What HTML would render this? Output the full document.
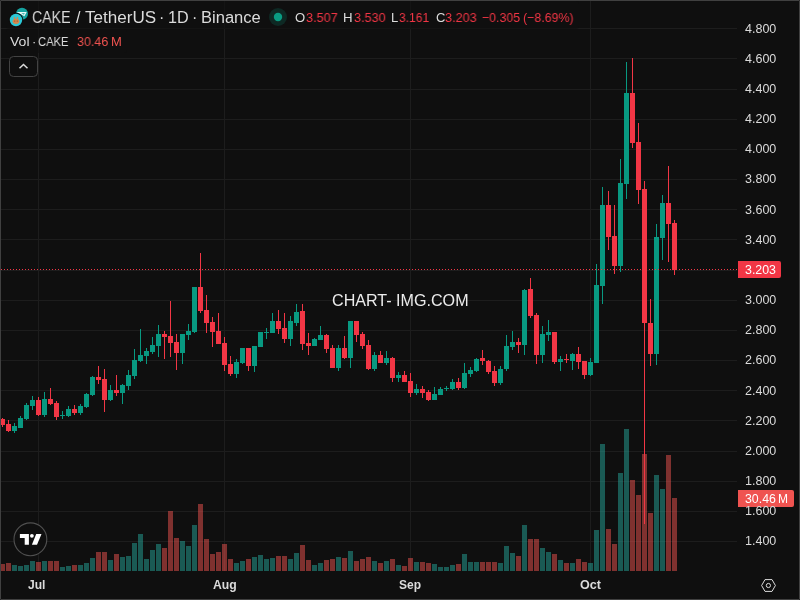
<!DOCTYPE html>
<html><head><meta charset="utf-8"><style>
html,body{margin:0;padding:0;}
body{width:800px;height:600px;overflow:hidden;background:#0f0f0f;position:relative;font-family:"Liberation Sans",sans-serif;}
svg{position:absolute;left:0;top:0;}
.t{position:absolute;white-space:pre;transform-origin:0 0;will-change:transform;}
.frame{position:absolute;left:0;top:0;width:798px;height:598px;border:1px solid #404040;border-radius:1px;pointer-events:none;}
</style></head><body>
<svg width="800" height="600" shape-rendering="crispEdges">
<rect x="1" y="28" width="736" height="1" fill="#1d1d1d"/>
<rect x="1" y="58" width="736" height="1" fill="#1d1d1d"/>
<rect x="1" y="89" width="736" height="1" fill="#1d1d1d"/>
<rect x="1" y="119" width="736" height="1" fill="#1d1d1d"/>
<rect x="1" y="149" width="736" height="1" fill="#1d1d1d"/>
<rect x="1" y="179" width="736" height="1" fill="#1d1d1d"/>
<rect x="1" y="209" width="736" height="1" fill="#1d1d1d"/>
<rect x="1" y="239" width="736" height="1" fill="#1d1d1d"/>
<rect x="1" y="270" width="736" height="1" fill="#1d1d1d"/>
<rect x="1" y="300" width="736" height="1" fill="#1d1d1d"/>
<rect x="1" y="330" width="736" height="1" fill="#1d1d1d"/>
<rect x="1" y="360" width="736" height="1" fill="#1d1d1d"/>
<rect x="1" y="390" width="736" height="1" fill="#1d1d1d"/>
<rect x="1" y="420" width="736" height="1" fill="#1d1d1d"/>
<rect x="1" y="451" width="736" height="1" fill="#1d1d1d"/>
<rect x="1" y="481" width="736" height="1" fill="#1d1d1d"/>
<rect x="1" y="511" width="736" height="1" fill="#1d1d1d"/>
<rect x="1" y="541" width="736" height="1" fill="#1d1d1d"/>
<rect x="38" y="1" width="1" height="570" fill="#1d1d1d"/>
<rect x="224" y="1" width="1" height="570" fill="#1d1d1d"/>
<rect x="410" y="1" width="1" height="570" fill="#1d1d1d"/>
<rect x="590" y="1" width="1" height="570" fill="#1d1d1d"/>
<rect x="0" y="564" width="5" height="7" fill="rgba(239,83,80,0.5)"/>
<rect x="6" y="563" width="5" height="8" fill="rgba(239,83,80,0.5)"/>
<rect x="12" y="565" width="5" height="6" fill="rgba(38,166,154,0.5)"/>
<rect x="18" y="566" width="5" height="5" fill="rgba(38,166,154,0.5)"/>
<rect x="24" y="565" width="5" height="6" fill="rgba(38,166,154,0.5)"/>
<rect x="30" y="561" width="5" height="10" fill="rgba(38,166,154,0.5)"/>
<rect x="36" y="562" width="5" height="9" fill="rgba(239,83,80,0.5)"/>
<rect x="42" y="561" width="5" height="10" fill="rgba(38,166,154,0.5)"/>
<rect x="48" y="561" width="5" height="10" fill="rgba(239,83,80,0.5)"/>
<rect x="54" y="561" width="5" height="10" fill="rgba(239,83,80,0.5)"/>
<rect x="60" y="567" width="5" height="4" fill="rgba(38,166,154,0.5)"/>
<rect x="66" y="566" width="5" height="5" fill="rgba(38,166,154,0.5)"/>
<rect x="72" y="565" width="5" height="6" fill="rgba(239,83,80,0.5)"/>
<rect x="78" y="565" width="5" height="6" fill="rgba(38,166,154,0.5)"/>
<rect x="84" y="563" width="5" height="8" fill="rgba(38,166,154,0.5)"/>
<rect x="90" y="558" width="5" height="13" fill="rgba(38,166,154,0.5)"/>
<rect x="96" y="552" width="5" height="19" fill="rgba(239,83,80,0.5)"/>
<rect x="102" y="552" width="5" height="19" fill="rgba(239,83,80,0.5)"/>
<rect x="108" y="560" width="5" height="11" fill="rgba(38,166,154,0.5)"/>
<rect x="114" y="554" width="5" height="17" fill="rgba(239,83,80,0.5)"/>
<rect x="120" y="557" width="5" height="14" fill="rgba(38,166,154,0.5)"/>
<rect x="126" y="556" width="5" height="15" fill="rgba(38,166,154,0.5)"/>
<rect x="132" y="543" width="5" height="28" fill="rgba(38,166,154,0.5)"/>
<rect x="138" y="534" width="5" height="37" fill="rgba(38,166,154,0.5)"/>
<rect x="144" y="559" width="5" height="12" fill="rgba(38,166,154,0.5)"/>
<rect x="150" y="550" width="5" height="21" fill="rgba(38,166,154,0.5)"/>
<rect x="156" y="544" width="5" height="27" fill="rgba(38,166,154,0.5)"/>
<rect x="162" y="548" width="5" height="23" fill="rgba(239,83,80,0.5)"/>
<rect x="168" y="511" width="5" height="60" fill="rgba(239,83,80,0.5)"/>
<rect x="174" y="538" width="5" height="33" fill="rgba(239,83,80,0.5)"/>
<rect x="180" y="541" width="5" height="30" fill="rgba(38,166,154,0.5)"/>
<rect x="186" y="546" width="5" height="25" fill="rgba(38,166,154,0.5)"/>
<rect x="192" y="525" width="5" height="46" fill="rgba(38,166,154,0.5)"/>
<rect x="198" y="504" width="5" height="67" fill="rgba(239,83,80,0.5)"/>
<rect x="204" y="539" width="5" height="32" fill="rgba(239,83,80,0.5)"/>
<rect x="210" y="554" width="5" height="17" fill="rgba(239,83,80,0.5)"/>
<rect x="216" y="552" width="5" height="19" fill="rgba(239,83,80,0.5)"/>
<rect x="222" y="544" width="5" height="27" fill="rgba(239,83,80,0.5)"/>
<rect x="228" y="559" width="5" height="12" fill="rgba(239,83,80,0.5)"/>
<rect x="234" y="563" width="5" height="8" fill="rgba(38,166,154,0.5)"/>
<rect x="240" y="561" width="5" height="10" fill="rgba(38,166,154,0.5)"/>
<rect x="246" y="559" width="5" height="12" fill="rgba(239,83,80,0.5)"/>
<rect x="252" y="557" width="5" height="14" fill="rgba(38,166,154,0.5)"/>
<rect x="258" y="555" width="5" height="16" fill="rgba(38,166,154,0.5)"/>
<rect x="264" y="559" width="5" height="12" fill="rgba(38,166,154,0.5)"/>
<rect x="270" y="558" width="5" height="13" fill="rgba(38,166,154,0.5)"/>
<rect x="276" y="556" width="5" height="15" fill="rgba(239,83,80,0.5)"/>
<rect x="282" y="556" width="5" height="15" fill="rgba(239,83,80,0.5)"/>
<rect x="288" y="559" width="5" height="12" fill="rgba(38,166,154,0.5)"/>
<rect x="294" y="553" width="5" height="18" fill="rgba(38,166,154,0.5)"/>
<rect x="300" y="545" width="5" height="26" fill="rgba(239,83,80,0.5)"/>
<rect x="306" y="560" width="5" height="11" fill="rgba(239,83,80,0.5)"/>
<rect x="312" y="565" width="5" height="6" fill="rgba(38,166,154,0.5)"/>
<rect x="318" y="563" width="5" height="8" fill="rgba(38,166,154,0.5)"/>
<rect x="324" y="560" width="5" height="11" fill="rgba(239,83,80,0.5)"/>
<rect x="330" y="559" width="5" height="12" fill="rgba(239,83,80,0.5)"/>
<rect x="336" y="557" width="5" height="14" fill="rgba(38,166,154,0.5)"/>
<rect x="342" y="558" width="5" height="13" fill="rgba(239,83,80,0.5)"/>
<rect x="348" y="551" width="5" height="20" fill="rgba(38,166,154,0.5)"/>
<rect x="354" y="561" width="5" height="10" fill="rgba(239,83,80,0.5)"/>
<rect x="360" y="559" width="5" height="12" fill="rgba(239,83,80,0.5)"/>
<rect x="366" y="557" width="5" height="14" fill="rgba(239,83,80,0.5)"/>
<rect x="372" y="561" width="5" height="10" fill="rgba(38,166,154,0.5)"/>
<rect x="378" y="563" width="5" height="8" fill="rgba(239,83,80,0.5)"/>
<rect x="384" y="561" width="5" height="10" fill="rgba(38,166,154,0.5)"/>
<rect x="390" y="559" width="5" height="12" fill="rgba(239,83,80,0.5)"/>
<rect x="396" y="565" width="5" height="6" fill="rgba(38,166,154,0.5)"/>
<rect x="402" y="566" width="5" height="5" fill="rgba(239,83,80,0.5)"/>
<rect x="408" y="558" width="5" height="13" fill="rgba(239,83,80,0.5)"/>
<rect x="414" y="562" width="5" height="9" fill="rgba(38,166,154,0.5)"/>
<rect x="420" y="562" width="5" height="9" fill="rgba(239,83,80,0.5)"/>
<rect x="426" y="563" width="5" height="8" fill="rgba(239,83,80,0.5)"/>
<rect x="432" y="564" width="5" height="7" fill="rgba(38,166,154,0.5)"/>
<rect x="438" y="567" width="5" height="4" fill="rgba(38,166,154,0.5)"/>
<rect x="444" y="567" width="5" height="4" fill="rgba(38,166,154,0.5)"/>
<rect x="450" y="565" width="5" height="6" fill="rgba(38,166,154,0.5)"/>
<rect x="456" y="564" width="5" height="7" fill="rgba(239,83,80,0.5)"/>
<rect x="462" y="554" width="5" height="17" fill="rgba(38,166,154,0.5)"/>
<rect x="468" y="562" width="5" height="9" fill="rgba(38,166,154,0.5)"/>
<rect x="474" y="562" width="5" height="9" fill="rgba(38,166,154,0.5)"/>
<rect x="480" y="562" width="5" height="9" fill="rgba(239,83,80,0.5)"/>
<rect x="486" y="562" width="5" height="9" fill="rgba(239,83,80,0.5)"/>
<rect x="492" y="562" width="5" height="9" fill="rgba(239,83,80,0.5)"/>
<rect x="498" y="563" width="5" height="8" fill="rgba(38,166,154,0.5)"/>
<rect x="504" y="546" width="5" height="25" fill="rgba(38,166,154,0.5)"/>
<rect x="510" y="553" width="5" height="18" fill="rgba(38,166,154,0.5)"/>
<rect x="516" y="556" width="5" height="15" fill="rgba(239,83,80,0.5)"/>
<rect x="522" y="525" width="5" height="46" fill="rgba(38,166,154,0.5)"/>
<rect x="528" y="539" width="5" height="32" fill="rgba(239,83,80,0.5)"/>
<rect x="534" y="539" width="5" height="32" fill="rgba(239,83,80,0.5)"/>
<rect x="540" y="548" width="5" height="23" fill="rgba(38,166,154,0.5)"/>
<rect x="546" y="552" width="5" height="19" fill="rgba(38,166,154,0.5)"/>
<rect x="552" y="554" width="5" height="17" fill="rgba(239,83,80,0.5)"/>
<rect x="558" y="560" width="5" height="11" fill="rgba(38,166,154,0.5)"/>
<rect x="564" y="563" width="5" height="8" fill="rgba(239,83,80,0.5)"/>
<rect x="570" y="563" width="5" height="8" fill="rgba(38,166,154,0.5)"/>
<rect x="576" y="559" width="5" height="12" fill="rgba(239,83,80,0.5)"/>
<rect x="582" y="562" width="5" height="9" fill="rgba(239,83,80,0.5)"/>
<rect x="588" y="563" width="5" height="8" fill="rgba(38,166,154,0.5)"/>
<rect x="594" y="530" width="5" height="41" fill="rgba(38,166,154,0.5)"/>
<rect x="600" y="444" width="5" height="127" fill="rgba(38,166,154,0.5)"/>
<rect x="606" y="529" width="5" height="42" fill="rgba(239,83,80,0.5)"/>
<rect x="612" y="544" width="5" height="27" fill="rgba(239,83,80,0.5)"/>
<rect x="618" y="473" width="5" height="98" fill="rgba(38,166,154,0.5)"/>
<rect x="624" y="429" width="5" height="142" fill="rgba(38,166,154,0.5)"/>
<rect x="630" y="480" width="5" height="91" fill="rgba(239,83,80,0.5)"/>
<rect x="636" y="495" width="5" height="76" fill="rgba(239,83,80,0.5)"/>
<rect x="642" y="454" width="5" height="117" fill="rgba(239,83,80,0.5)"/>
<rect x="648" y="513" width="5" height="58" fill="rgba(239,83,80,0.5)"/>
<rect x="654" y="475" width="5" height="96" fill="rgba(38,166,154,0.5)"/>
<rect x="660" y="489" width="5" height="82" fill="rgba(38,166,154,0.5)"/>
<rect x="666" y="455" width="5" height="116" fill="rgba(239,83,80,0.5)"/>
<rect x="672" y="498" width="5" height="73" fill="rgba(239,83,80,0.5)"/>
<rect x="2" y="418" width="1" height="9" fill="#f23645"/>
<rect x="0" y="419" width="5" height="6" fill="#f23645"/>
<rect x="8" y="420" width="1" height="12" fill="#f23645"/>
<rect x="6" y="424" width="5" height="7" fill="#f23645"/>
<rect x="14" y="423" width="1" height="10" fill="#089981"/>
<rect x="12" y="426" width="5" height="5" fill="#089981"/>
<rect x="20" y="416" width="1" height="12" fill="#089981"/>
<rect x="18" y="418" width="5" height="10" fill="#089981"/>
<rect x="26" y="403" width="1" height="17" fill="#089981"/>
<rect x="24" y="405" width="5" height="14" fill="#089981"/>
<rect x="32" y="396" width="1" height="14" fill="#089981"/>
<rect x="30" y="400" width="5" height="6" fill="#089981"/>
<rect x="38" y="397" width="1" height="19" fill="#f23645"/>
<rect x="36" y="400" width="5" height="15" fill="#f23645"/>
<rect x="44" y="392" width="1" height="25" fill="#089981"/>
<rect x="42" y="399" width="5" height="16" fill="#089981"/>
<rect x="50" y="388" width="1" height="17" fill="#f23645"/>
<rect x="48" y="399" width="5" height="5" fill="#f23645"/>
<rect x="56" y="401" width="1" height="19" fill="#f23645"/>
<rect x="54" y="403" width="5" height="14" fill="#f23645"/>
<rect x="62" y="411" width="1" height="8" fill="#089981"/>
<rect x="60" y="415" width="5" height="1" fill="#089981"/>
<rect x="68" y="406" width="1" height="11" fill="#089981"/>
<rect x="66" y="409" width="5" height="7" fill="#089981"/>
<rect x="74" y="405" width="1" height="10" fill="#f23645"/>
<rect x="72" y="409" width="5" height="4" fill="#f23645"/>
<rect x="80" y="404" width="1" height="11" fill="#089981"/>
<rect x="78" y="406" width="5" height="7" fill="#089981"/>
<rect x="86" y="393" width="1" height="15" fill="#089981"/>
<rect x="84" y="394" width="5" height="13" fill="#089981"/>
<rect x="92" y="376" width="1" height="20" fill="#089981"/>
<rect x="90" y="377" width="5" height="18" fill="#089981"/>
<rect x="98" y="366" width="1" height="18" fill="#f23645"/>
<rect x="96" y="377" width="5" height="3" fill="#f23645"/>
<rect x="104" y="369" width="1" height="43" fill="#f23645"/>
<rect x="102" y="379" width="5" height="21" fill="#f23645"/>
<rect x="110" y="385" width="1" height="16" fill="#089981"/>
<rect x="108" y="390" width="5" height="10" fill="#089981"/>
<rect x="116" y="375" width="1" height="21" fill="#f23645"/>
<rect x="114" y="390" width="5" height="3" fill="#f23645"/>
<rect x="122" y="384" width="1" height="20" fill="#089981"/>
<rect x="120" y="385" width="5" height="8" fill="#089981"/>
<rect x="128" y="370" width="1" height="20" fill="#089981"/>
<rect x="126" y="375" width="5" height="11" fill="#089981"/>
<rect x="134" y="349" width="1" height="30" fill="#089981"/>
<rect x="132" y="360" width="5" height="16" fill="#089981"/>
<rect x="140" y="329" width="1" height="33" fill="#089981"/>
<rect x="138" y="355" width="5" height="6" fill="#089981"/>
<rect x="146" y="348" width="1" height="16" fill="#089981"/>
<rect x="144" y="351" width="5" height="5" fill="#089981"/>
<rect x="152" y="337" width="1" height="17" fill="#089981"/>
<rect x="150" y="345" width="5" height="7" fill="#089981"/>
<rect x="158" y="325" width="1" height="32" fill="#089981"/>
<rect x="156" y="334" width="5" height="12" fill="#089981"/>
<rect x="164" y="331" width="1" height="28" fill="#f23645"/>
<rect x="162" y="334" width="5" height="3" fill="#f23645"/>
<rect x="170" y="301" width="1" height="56" fill="#f23645"/>
<rect x="168" y="336" width="5" height="7" fill="#f23645"/>
<rect x="176" y="334" width="1" height="36" fill="#f23645"/>
<rect x="174" y="342" width="5" height="11" fill="#f23645"/>
<rect x="182" y="334" width="1" height="30" fill="#089981"/>
<rect x="180" y="334" width="5" height="19" fill="#089981"/>
<rect x="188" y="324" width="1" height="16" fill="#089981"/>
<rect x="186" y="331" width="5" height="4" fill="#089981"/>
<rect x="194" y="287" width="1" height="46" fill="#089981"/>
<rect x="192" y="287" width="5" height="45" fill="#089981"/>
<rect x="200" y="253" width="1" height="60" fill="#f23645"/>
<rect x="198" y="287" width="5" height="24" fill="#f23645"/>
<rect x="206" y="295" width="1" height="38" fill="#f23645"/>
<rect x="204" y="310" width="5" height="13" fill="#f23645"/>
<rect x="212" y="317" width="1" height="30" fill="#f23645"/>
<rect x="210" y="322" width="5" height="10" fill="#f23645"/>
<rect x="218" y="313" width="1" height="31" fill="#f23645"/>
<rect x="216" y="331" width="5" height="13" fill="#f23645"/>
<rect x="224" y="337" width="1" height="34" fill="#f23645"/>
<rect x="222" y="343" width="5" height="22" fill="#f23645"/>
<rect x="230" y="356" width="1" height="20" fill="#f23645"/>
<rect x="228" y="364" width="5" height="10" fill="#f23645"/>
<rect x="236" y="359" width="1" height="19" fill="#089981"/>
<rect x="234" y="362" width="5" height="12" fill="#089981"/>
<rect x="242" y="348" width="1" height="16" fill="#089981"/>
<rect x="240" y="348" width="5" height="15" fill="#089981"/>
<rect x="248" y="348" width="1" height="23" fill="#f23645"/>
<rect x="246" y="348" width="5" height="18" fill="#f23645"/>
<rect x="254" y="346" width="1" height="26" fill="#089981"/>
<rect x="252" y="346" width="5" height="20" fill="#089981"/>
<rect x="260" y="332" width="1" height="15" fill="#089981"/>
<rect x="258" y="332" width="5" height="15" fill="#089981"/>
<rect x="266" y="328" width="1" height="11" fill="#089981"/>
<rect x="264" y="332" width="5" height="1" fill="#089981"/>
<rect x="272" y="313" width="1" height="20" fill="#089981"/>
<rect x="270" y="321" width="5" height="12" fill="#089981"/>
<rect x="278" y="310" width="1" height="24" fill="#f23645"/>
<rect x="276" y="321" width="5" height="8" fill="#f23645"/>
<rect x="284" y="313" width="1" height="30" fill="#f23645"/>
<rect x="282" y="328" width="5" height="11" fill="#f23645"/>
<rect x="290" y="316" width="1" height="30" fill="#089981"/>
<rect x="288" y="321" width="5" height="18" fill="#089981"/>
<rect x="296" y="304" width="1" height="22" fill="#089981"/>
<rect x="294" y="312" width="5" height="11" fill="#089981"/>
<rect x="302" y="304" width="1" height="46" fill="#f23645"/>
<rect x="300" y="311" width="5" height="33" fill="#f23645"/>
<rect x="308" y="333" width="1" height="22" fill="#f23645"/>
<rect x="306" y="343" width="5" height="3" fill="#f23645"/>
<rect x="314" y="338" width="1" height="8" fill="#089981"/>
<rect x="312" y="339" width="5" height="7" fill="#089981"/>
<rect x="320" y="326" width="1" height="14" fill="#089981"/>
<rect x="318" y="335" width="5" height="5" fill="#089981"/>
<rect x="326" y="334" width="1" height="19" fill="#f23645"/>
<rect x="324" y="335" width="5" height="14" fill="#f23645"/>
<rect x="332" y="345" width="1" height="23" fill="#f23645"/>
<rect x="330" y="348" width="5" height="20" fill="#f23645"/>
<rect x="338" y="345" width="1" height="26" fill="#089981"/>
<rect x="336" y="348" width="5" height="20" fill="#089981"/>
<rect x="344" y="336" width="1" height="23" fill="#f23645"/>
<rect x="342" y="348" width="5" height="10" fill="#f23645"/>
<rect x="350" y="321" width="1" height="47" fill="#089981"/>
<rect x="348" y="321" width="5" height="37" fill="#089981"/>
<rect x="356" y="321" width="1" height="21" fill="#f23645"/>
<rect x="354" y="321" width="5" height="14" fill="#f23645"/>
<rect x="362" y="332" width="1" height="17" fill="#f23645"/>
<rect x="360" y="334" width="5" height="12" fill="#f23645"/>
<rect x="368" y="340" width="1" height="30" fill="#f23645"/>
<rect x="366" y="345" width="5" height="24" fill="#f23645"/>
<rect x="374" y="352" width="1" height="19" fill="#089981"/>
<rect x="372" y="355" width="5" height="14" fill="#089981"/>
<rect x="380" y="351" width="1" height="12" fill="#f23645"/>
<rect x="378" y="355" width="5" height="8" fill="#f23645"/>
<rect x="386" y="351" width="1" height="14" fill="#089981"/>
<rect x="384" y="358" width="5" height="5" fill="#089981"/>
<rect x="392" y="357" width="1" height="25" fill="#f23645"/>
<rect x="390" y="358" width="5" height="20" fill="#f23645"/>
<rect x="398" y="372" width="1" height="10" fill="#089981"/>
<rect x="396" y="375" width="5" height="3" fill="#089981"/>
<rect x="404" y="371" width="1" height="11" fill="#f23645"/>
<rect x="402" y="375" width="5" height="7" fill="#f23645"/>
<rect x="410" y="373" width="1" height="24" fill="#f23645"/>
<rect x="408" y="381" width="5" height="12" fill="#f23645"/>
<rect x="416" y="384" width="1" height="11" fill="#089981"/>
<rect x="414" y="389" width="5" height="4" fill="#089981"/>
<rect x="422" y="386" width="1" height="12" fill="#f23645"/>
<rect x="420" y="389" width="5" height="4" fill="#f23645"/>
<rect x="428" y="390" width="1" height="11" fill="#f23645"/>
<rect x="426" y="392" width="5" height="8" fill="#f23645"/>
<rect x="434" y="387" width="1" height="13" fill="#089981"/>
<rect x="432" y="394" width="5" height="6" fill="#089981"/>
<rect x="440" y="387" width="1" height="8" fill="#089981"/>
<rect x="438" y="389" width="5" height="6" fill="#089981"/>
<rect x="446" y="386" width="1" height="5" fill="#089981"/>
<rect x="444" y="388" width="5" height="1" fill="#089981"/>
<rect x="452" y="379" width="1" height="11" fill="#089981"/>
<rect x="450" y="382" width="5" height="7" fill="#089981"/>
<rect x="458" y="378" width="1" height="12" fill="#f23645"/>
<rect x="456" y="382" width="5" height="6" fill="#f23645"/>
<rect x="464" y="363" width="1" height="26" fill="#089981"/>
<rect x="462" y="373" width="5" height="15" fill="#089981"/>
<rect x="470" y="367" width="1" height="10" fill="#089981"/>
<rect x="468" y="370" width="5" height="4" fill="#089981"/>
<rect x="476" y="358" width="1" height="14" fill="#089981"/>
<rect x="474" y="359" width="5" height="12" fill="#089981"/>
<rect x="482" y="350" width="1" height="15" fill="#f23645"/>
<rect x="480" y="358" width="5" height="3" fill="#f23645"/>
<rect x="488" y="360" width="1" height="14" fill="#f23645"/>
<rect x="486" y="361" width="5" height="11" fill="#f23645"/>
<rect x="494" y="366" width="1" height="20" fill="#f23645"/>
<rect x="492" y="371" width="5" height="12" fill="#f23645"/>
<rect x="500" y="366" width="1" height="19" fill="#089981"/>
<rect x="498" y="369" width="5" height="14" fill="#089981"/>
<rect x="506" y="335" width="1" height="36" fill="#089981"/>
<rect x="504" y="346" width="5" height="23" fill="#089981"/>
<rect x="512" y="331" width="1" height="19" fill="#089981"/>
<rect x="510" y="342" width="5" height="5" fill="#089981"/>
<rect x="518" y="338" width="1" height="15" fill="#f23645"/>
<rect x="516" y="342" width="5" height="3" fill="#f23645"/>
<rect x="524" y="289" width="1" height="66" fill="#089981"/>
<rect x="522" y="290" width="5" height="55" fill="#089981"/>
<rect x="530" y="278" width="1" height="40" fill="#f23645"/>
<rect x="528" y="289" width="5" height="27" fill="#f23645"/>
<rect x="536" y="313" width="1" height="51" fill="#f23645"/>
<rect x="534" y="315" width="5" height="40" fill="#f23645"/>
<rect x="542" y="326" width="1" height="37" fill="#089981"/>
<rect x="540" y="334" width="5" height="21" fill="#089981"/>
<rect x="548" y="320" width="1" height="21" fill="#089981"/>
<rect x="546" y="332" width="5" height="3" fill="#089981"/>
<rect x="554" y="332" width="1" height="32" fill="#f23645"/>
<rect x="552" y="332" width="5" height="30" fill="#f23645"/>
<rect x="560" y="356" width="1" height="15" fill="#089981"/>
<rect x="558" y="359" width="5" height="3" fill="#089981"/>
<rect x="566" y="354" width="1" height="9" fill="#f23645"/>
<rect x="564" y="359" width="5" height="1" fill="#f23645"/>
<rect x="572" y="353" width="1" height="17" fill="#089981"/>
<rect x="570" y="354" width="5" height="7" fill="#089981"/>
<rect x="578" y="347" width="1" height="22" fill="#f23645"/>
<rect x="576" y="354" width="5" height="8" fill="#f23645"/>
<rect x="584" y="361" width="1" height="18" fill="#f23645"/>
<rect x="582" y="361" width="5" height="14" fill="#f23645"/>
<rect x="590" y="358" width="1" height="18" fill="#089981"/>
<rect x="588" y="362" width="5" height="13" fill="#089981"/>
<rect x="596" y="264" width="1" height="99" fill="#089981"/>
<rect x="594" y="285" width="5" height="78" fill="#089981"/>
<rect x="602" y="187" width="1" height="117" fill="#089981"/>
<rect x="600" y="205" width="5" height="81" fill="#089981"/>
<rect x="608" y="191" width="1" height="59" fill="#f23645"/>
<rect x="606" y="205" width="5" height="32" fill="#f23645"/>
<rect x="614" y="205" width="1" height="69" fill="#f23645"/>
<rect x="612" y="236" width="5" height="30" fill="#f23645"/>
<rect x="620" y="159" width="1" height="113" fill="#089981"/>
<rect x="618" y="183" width="5" height="83" fill="#089981"/>
<rect x="626" y="62" width="1" height="137" fill="#089981"/>
<rect x="624" y="93" width="5" height="91" fill="#089981"/>
<rect x="632" y="58" width="1" height="90" fill="#f23645"/>
<rect x="630" y="93" width="5" height="50" fill="#f23645"/>
<rect x="638" y="123" width="1" height="81" fill="#f23645"/>
<rect x="636" y="142" width="5" height="48" fill="#f23645"/>
<rect x="644" y="181" width="1" height="343" fill="#f23645"/>
<rect x="642" y="189" width="5" height="134" fill="#f23645"/>
<rect x="650" y="299" width="1" height="67" fill="#f23645"/>
<rect x="648" y="323" width="5" height="31" fill="#f23645"/>
<rect x="656" y="224" width="1" height="141" fill="#089981"/>
<rect x="654" y="237" width="5" height="117" fill="#089981"/>
<rect x="662" y="195" width="1" height="65" fill="#089981"/>
<rect x="660" y="203" width="5" height="35" fill="#089981"/>
<rect x="668" y="166" width="1" height="96" fill="#f23645"/>
<rect x="666" y="203" width="5" height="21" fill="#f23645"/>
<rect x="674" y="220" width="1" height="55" fill="#f23645"/>
<rect x="672" y="223" width="5" height="47" fill="#f23645"/>
<path d="M1 269h1v1h-1zM4 269h1v1h-1zM7 269h1v1h-1zM10 269h1v1h-1zM13 269h1v1h-1zM16 269h1v1h-1zM19 269h1v1h-1zM22 269h1v1h-1zM25 269h1v1h-1zM28 269h1v1h-1zM31 269h1v1h-1zM34 269h1v1h-1zM37 269h1v1h-1zM40 269h1v1h-1zM43 269h1v1h-1zM46 269h1v1h-1zM49 269h1v1h-1zM52 269h1v1h-1zM55 269h1v1h-1zM58 269h1v1h-1zM61 269h1v1h-1zM64 269h1v1h-1zM67 269h1v1h-1zM70 269h1v1h-1zM73 269h1v1h-1zM76 269h1v1h-1zM79 269h1v1h-1zM82 269h1v1h-1zM85 269h1v1h-1zM88 269h1v1h-1zM91 269h1v1h-1zM94 269h1v1h-1zM97 269h1v1h-1zM100 269h1v1h-1zM103 269h1v1h-1zM106 269h1v1h-1zM109 269h1v1h-1zM112 269h1v1h-1zM115 269h1v1h-1zM118 269h1v1h-1zM121 269h1v1h-1zM124 269h1v1h-1zM127 269h1v1h-1zM130 269h1v1h-1zM133 269h1v1h-1zM136 269h1v1h-1zM139 269h1v1h-1zM142 269h1v1h-1zM145 269h1v1h-1zM148 269h1v1h-1zM151 269h1v1h-1zM154 269h1v1h-1zM157 269h1v1h-1zM160 269h1v1h-1zM163 269h1v1h-1zM166 269h1v1h-1zM169 269h1v1h-1zM172 269h1v1h-1zM175 269h1v1h-1zM178 269h1v1h-1zM181 269h1v1h-1zM184 269h1v1h-1zM187 269h1v1h-1zM190 269h1v1h-1zM193 269h1v1h-1zM196 269h1v1h-1zM199 269h1v1h-1zM202 269h1v1h-1zM205 269h1v1h-1zM208 269h1v1h-1zM211 269h1v1h-1zM214 269h1v1h-1zM217 269h1v1h-1zM220 269h1v1h-1zM223 269h1v1h-1zM226 269h1v1h-1zM229 269h1v1h-1zM232 269h1v1h-1zM235 269h1v1h-1zM238 269h1v1h-1zM241 269h1v1h-1zM244 269h1v1h-1zM247 269h1v1h-1zM250 269h1v1h-1zM253 269h1v1h-1zM256 269h1v1h-1zM259 269h1v1h-1zM262 269h1v1h-1zM265 269h1v1h-1zM268 269h1v1h-1zM271 269h1v1h-1zM274 269h1v1h-1zM277 269h1v1h-1zM280 269h1v1h-1zM283 269h1v1h-1zM286 269h1v1h-1zM289 269h1v1h-1zM292 269h1v1h-1zM295 269h1v1h-1zM298 269h1v1h-1zM301 269h1v1h-1zM304 269h1v1h-1zM307 269h1v1h-1zM310 269h1v1h-1zM313 269h1v1h-1zM316 269h1v1h-1zM319 269h1v1h-1zM322 269h1v1h-1zM325 269h1v1h-1zM328 269h1v1h-1zM331 269h1v1h-1zM334 269h1v1h-1zM337 269h1v1h-1zM340 269h1v1h-1zM343 269h1v1h-1zM346 269h1v1h-1zM349 269h1v1h-1zM352 269h1v1h-1zM355 269h1v1h-1zM358 269h1v1h-1zM361 269h1v1h-1zM364 269h1v1h-1zM367 269h1v1h-1zM370 269h1v1h-1zM373 269h1v1h-1zM376 269h1v1h-1zM379 269h1v1h-1zM382 269h1v1h-1zM385 269h1v1h-1zM388 269h1v1h-1zM391 269h1v1h-1zM394 269h1v1h-1zM397 269h1v1h-1zM400 269h1v1h-1zM403 269h1v1h-1zM406 269h1v1h-1zM409 269h1v1h-1zM412 269h1v1h-1zM415 269h1v1h-1zM418 269h1v1h-1zM421 269h1v1h-1zM424 269h1v1h-1zM427 269h1v1h-1zM430 269h1v1h-1zM433 269h1v1h-1zM436 269h1v1h-1zM439 269h1v1h-1zM442 269h1v1h-1zM445 269h1v1h-1zM448 269h1v1h-1zM451 269h1v1h-1zM454 269h1v1h-1zM457 269h1v1h-1zM460 269h1v1h-1zM463 269h1v1h-1zM466 269h1v1h-1zM469 269h1v1h-1zM472 269h1v1h-1zM475 269h1v1h-1zM478 269h1v1h-1zM481 269h1v1h-1zM484 269h1v1h-1zM487 269h1v1h-1zM490 269h1v1h-1zM493 269h1v1h-1zM496 269h1v1h-1zM499 269h1v1h-1zM502 269h1v1h-1zM505 269h1v1h-1zM508 269h1v1h-1zM511 269h1v1h-1zM514 269h1v1h-1zM517 269h1v1h-1zM520 269h1v1h-1zM523 269h1v1h-1zM526 269h1v1h-1zM529 269h1v1h-1zM532 269h1v1h-1zM535 269h1v1h-1zM538 269h1v1h-1zM541 269h1v1h-1zM544 269h1v1h-1zM547 269h1v1h-1zM550 269h1v1h-1zM553 269h1v1h-1zM556 269h1v1h-1zM559 269h1v1h-1zM562 269h1v1h-1zM565 269h1v1h-1zM568 269h1v1h-1zM571 269h1v1h-1zM574 269h1v1h-1zM577 269h1v1h-1zM580 269h1v1h-1zM583 269h1v1h-1zM586 269h1v1h-1zM589 269h1v1h-1zM592 269h1v1h-1zM595 269h1v1h-1zM598 269h1v1h-1zM601 269h1v1h-1zM604 269h1v1h-1zM607 269h1v1h-1zM610 269h1v1h-1zM613 269h1v1h-1zM616 269h1v1h-1zM619 269h1v1h-1zM622 269h1v1h-1zM625 269h1v1h-1zM628 269h1v1h-1zM631 269h1v1h-1zM634 269h1v1h-1zM637 269h1v1h-1zM640 269h1v1h-1zM643 269h1v1h-1zM646 269h1v1h-1zM649 269h1v1h-1zM652 269h1v1h-1zM655 269h1v1h-1zM658 269h1v1h-1zM661 269h1v1h-1zM664 269h1v1h-1zM667 269h1v1h-1zM670 269h1v1h-1zM673 269h1v1h-1zM676 269h1v1h-1zM679 269h1v1h-1zM682 269h1v1h-1zM685 269h1v1h-1zM688 269h1v1h-1zM691 269h1v1h-1zM694 269h1v1h-1zM697 269h1v1h-1zM700 269h1v1h-1zM703 269h1v1h-1zM706 269h1v1h-1zM709 269h1v1h-1zM712 269h1v1h-1zM715 269h1v1h-1zM718 269h1v1h-1zM721 269h1v1h-1zM724 269h1v1h-1zM727 269h1v1h-1zM730 269h1v1h-1zM733 269h1v1h-1zM736 269h1v1h-1z" fill="#f23645"/>
<path d="M738 261H779a2 2 0 0 1 2 2V276a2 2 0 0 1 -2 2H738z" fill="#f23645" shape-rendering="auto"/>
<path d="M738 490H792a2 2 0 0 1 2 2V505a2 2 0 0 1 -2 2H738z" fill="#ef5350" shape-rendering="auto"/>
</svg>

<svg width="800" height="600" style="position:absolute;left:0;top:0">
 <rect x="6" y="1" width="573" height="28" rx="3" fill="#0f0f0f" fill-opacity="0.6"/>
 <rect x="6" y="29" width="121" height="24" rx="3" fill="#0f0f0f" fill-opacity="0.6"/>
 <!-- coin icons -->
 <circle cx="22" cy="13.8" r="6" fill="#16a3a0"/>
 <path d="M18.8 12.6 L25.8 12.6 L24.2 15.6 Z" fill="none" stroke="#e8f7f5" stroke-width="1.1"/>
 <circle cx="16" cy="20" r="7.3" fill="#0f0f0f"/>
 <circle cx="16" cy="20" r="6.2" fill="#2bc9d7"/>
 <ellipse cx="16" cy="21.3" rx="3.4" ry="2.6" fill="#d4874d"/>
 <rect x="13.9" y="17" width="1.3" height="3" rx="0.6" fill="#d4874d"/>
 <rect x="16.8" y="17" width="1.3" height="3" rx="0.6" fill="#d4874d"/>
 <circle cx="14.8" cy="21" r="0.5" fill="#6b3a1c"/>
 <circle cx="17.2" cy="21" r="0.5" fill="#6b3a1c"/>
 <!-- green status dot -->
 <circle cx="278" cy="17" r="9" fill="#0e2924"/>
 <circle cx="278" cy="17" r="4.2" fill="#0a9b82"/>
 <!-- collapse button -->
 <rect x="9.5" y="56.5" width="28" height="20" rx="4" fill="#0f0f0f" stroke="#434343" stroke-width="1"/>
 <path d="M19.5 68.3 L23.5 64.5 L27.5 68.3" fill="none" stroke="#dbdbdb" stroke-width="1.5"/>
 <!-- TV logo -->
 <circle cx="30.4" cy="539.3" r="16.4" fill="#0f0f0f" stroke="#505050" stroke-width="1.1"/>
 <path d="M19.9 534h9v10.8h-4.2v-6.7h-4.8z" fill="#ffffff"/>
 <circle cx="31.9" cy="535.8" r="1.9" fill="#ffffff"/>
 <path d="M36.2 534h5.3l-4.5 10.8h-5.1z" fill="#ffffff"/>
 <!-- settings -->
 <path d="M761.6 585.5 L765 579.6 L772 579.6 L775.4 585.5 L772 591.4 L765 591.4 Z" fill="none" stroke="#dbdbdb" stroke-width="1"/>
 <circle cx="768.4" cy="585.5" r="2.1" fill="none" stroke="#dbdbdb" stroke-width="1"/>
</svg>
<div class="t" style="left:32.29px;top:10px;font-size:16px;line-height:16px;font-weight:400;color:#dbdbdb;transform:scaleX(0.8831)">CAKE</div>
<div class="t" style="left:75.51px;top:10px;font-size:16px;line-height:16px;font-weight:400;color:#dbdbdb;transform:scaleX(1.0000)">/</div>
<div class="t" style="left:84.92px;top:10px;font-size:16px;line-height:16px;font-weight:400;color:#dbdbdb;transform:scaleX(1.0669)">TetherUS</div>
<div class="t" style="left:159.33px;top:10px;font-size:16px;line-height:16px;font-weight:400;color:#dbdbdb;transform:scaleX(1.0000)">·</div>
<div class="t" style="left:167.90px;top:10px;font-size:16px;line-height:16px;font-weight:400;color:#dbdbdb;transform:scaleX(1.0108)">1D</div>
<div class="t" style="left:192.33px;top:10px;font-size:16px;line-height:16px;font-weight:400;color:#dbdbdb;transform:scaleX(1.0000)">·</div>
<div class="t" style="left:201.19px;top:10px;font-size:16px;line-height:16px;font-weight:400;color:#dbdbdb;transform:scaleX(1.0337)">Binance</div>
<div class="t" style="left:294.91px;top:11px;font-size:13px;line-height:13px;font-weight:400;color:#dbdbdb;transform:scaleX(1.0079)">O</div>
<div class="t" style="left:305.83px;top:11px;font-size:13px;line-height:13px;font-weight:400;color:#f23645;transform:scaleX(0.9785)">3.507</div>
<div class="t" style="left:342.93px;top:11px;font-size:13px;line-height:13px;font-weight:400;color:#dbdbdb;transform:scaleX(1.0216)">H</div>
<div class="t" style="left:353.83px;top:11px;font-size:13px;line-height:13px;font-weight:400;color:#f23645;transform:scaleX(0.9756)">3.530</div>
<div class="t" style="left:391.00px;top:11px;font-size:13px;line-height:13px;font-weight:400;color:#dbdbdb;transform:scaleX(0.9521)">L</div>
<div class="t" style="left:398.86px;top:11px;font-size:13px;line-height:13px;font-weight:400;color:#f23645;transform:scaleX(0.9300)">3.161</div>
<div class="t" style="left:435.89px;top:11px;font-size:13px;line-height:13px;font-weight:400;color:#dbdbdb;transform:scaleX(0.9586)">C</div>
<div class="t" style="left:444.83px;top:11px;font-size:13px;line-height:13px;font-weight:400;color:#f23645;transform:scaleX(0.9779)">3.203</div>
<div class="t" style="left:481.92px;top:11px;font-size:13px;line-height:13px;font-weight:400;color:#f23645;transform:scaleX(0.9475)">−0.305</div>
<div class="t" style="left:522.73px;top:11px;font-size:13px;line-height:13px;font-weight:400;color:#f23645;transform:scaleX(0.9519)">(−8.69%)</div>
<div class="t" style="left:9.75px;top:35px;font-size:13px;line-height:13px;font-weight:400;color:#dbdbdb;transform:scaleX(1.0817)">Vol</div>
<div class="t" style="left:31.60px;top:35px;font-size:13px;line-height:13px;font-weight:400;color:#dbdbdb;transform:scaleX(1.0000)">·</div>
<div class="t" style="left:38.46px;top:35px;font-size:13px;line-height:13px;font-weight:400;color:#dbdbdb;transform:scaleX(0.8613)">CAKE</div>
<div class="t" style="left:76.84px;top:35px;font-size:13px;line-height:13px;font-weight:400;color:#ef5350;transform:scaleX(0.9626)">30.46</div>
<div class="t" style="left:110.57px;top:35px;font-size:13px;line-height:13px;font-weight:400;color:#ef5350;transform:scaleX(1.0000)">M</div>
<div class="t" style="left:331.99px;top:293px;font-size:16px;line-height:16px;font-weight:400;color:#ececec;transform:scaleX(1.0062)">CHART- IMG.COM</div>
<div class="t" style="left:28.33px;top:579px;font-size:12px;line-height:12px;font-weight:700;color:#dbdbdb;transform:scaleX(1.0077)">Jul</div>
<div class="t" style="left:212.69px;top:579px;font-size:12px;line-height:12px;font-weight:700;color:#dbdbdb;transform:scaleX(1.0157)">Aug</div>
<div class="t" style="left:398.61px;top:579px;font-size:12px;line-height:12px;font-weight:700;color:#dbdbdb;transform:scaleX(0.9892)">Sep</div>
<div class="t" style="left:580.00px;top:579px;font-size:12px;line-height:12px;font-weight:700;color:#dbdbdb;transform:scaleX(1.0472)">Oct</div>
<div class="t" style="left:744.66px;top:264px;font-size:12px;line-height:12px;font-weight:400;color:#ffffff;transform:scaleX(1.0321)">3.203</div>
<div class="t" style="left:744.76px;top:493px;font-size:12px;line-height:12px;font-weight:400;color:#ffffff;transform:scaleX(1.0293)">30.46</div>
<div class="t" style="left:778.40px;top:493px;font-size:12px;line-height:12px;font-weight:400;color:#ffffff;transform:scaleX(1.0000)">M</div>
<div class="t" style="left:744.75px;top:23px;font-size:12px;line-height:12px;color:#dbdbdb;transform:scaleX(1.0427)">4.800</div>
<div class="t" style="left:744.75px;top:53px;font-size:12px;line-height:12px;color:#dbdbdb;transform:scaleX(1.0427)">4.600</div>
<div class="t" style="left:744.75px;top:83px;font-size:12px;line-height:12px;color:#dbdbdb;transform:scaleX(1.0427)">4.400</div>
<div class="t" style="left:744.75px;top:113px;font-size:12px;line-height:12px;color:#dbdbdb;transform:scaleX(1.0427)">4.200</div>
<div class="t" style="left:744.75px;top:143px;font-size:12px;line-height:12px;color:#dbdbdb;transform:scaleX(1.0427)">4.000</div>
<div class="t" style="left:744.75px;top:173px;font-size:12px;line-height:12px;color:#dbdbdb;transform:scaleX(1.0427)">3.800</div>
<div class="t" style="left:744.75px;top:204px;font-size:12px;line-height:12px;color:#dbdbdb;transform:scaleX(1.0427)">3.600</div>
<div class="t" style="left:744.75px;top:234px;font-size:12px;line-height:12px;color:#dbdbdb;transform:scaleX(1.0427)">3.400</div>
<div class="t" style="left:744.75px;top:294px;font-size:12px;line-height:12px;color:#dbdbdb;transform:scaleX(1.0427)">3.000</div>
<div class="t" style="left:744.75px;top:324px;font-size:12px;line-height:12px;color:#dbdbdb;transform:scaleX(1.0427)">2.800</div>
<div class="t" style="left:744.75px;top:354px;font-size:12px;line-height:12px;color:#dbdbdb;transform:scaleX(1.0427)">2.600</div>
<div class="t" style="left:744.75px;top:385px;font-size:12px;line-height:12px;color:#dbdbdb;transform:scaleX(1.0427)">2.400</div>
<div class="t" style="left:744.75px;top:415px;font-size:12px;line-height:12px;color:#dbdbdb;transform:scaleX(1.0427)">2.200</div>
<div class="t" style="left:744.75px;top:445px;font-size:12px;line-height:12px;color:#dbdbdb;transform:scaleX(1.0427)">2.000</div>
<div class="t" style="left:744.75px;top:475px;font-size:12px;line-height:12px;color:#dbdbdb;transform:scaleX(1.0427)">1.800</div>
<div class="t" style="left:744.75px;top:505px;font-size:12px;line-height:12px;color:#dbdbdb;transform:scaleX(1.0427)">1.600</div>
<div class="t" style="left:744.75px;top:535px;font-size:12px;line-height:12px;color:#dbdbdb;transform:scaleX(1.0427)">1.400</div>
<div class="frame"></div>
</body></html>
